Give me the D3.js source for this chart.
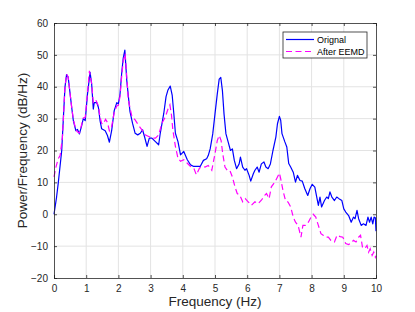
<!DOCTYPE html>
<html>
<head>
<meta charset="utf-8">
<script src="https://cdn.jsdelivr.net/npm/d3@7"></script>
<style>
  body { margin: 0; background: #fff; }
  svg { display: block; font-family: "Liberation Sans", Arial, Helvetica, sans-serif; }
  .tick text { fill: #262626; font-size: 10px; }
</style>
</head>
<body>
<svg id="chart" width="415" height="312"></svg>
<script>
// ── Data ──
const xTicks = [0, 1, 2, 3, 4, 5, 6, 7, 8, 9, 10];
const yTicks = [-20, -10, 0, 10, 20, 30, 40, 50, 60];
const seriesNames = ["Orignal", "After EEMD"];

const origFreq = [0, 0.08, 0.13, 0.24, 0.34, 0.39, 0.44, 0.55, 0.6, 0.68, 0.73, 0.79, 0.86, 0.91, 0.97,
  1.04, 1.12, 1.17, 1.22, 1.25, 1.33, 1.38, 1.43, 1.48, 1.59, 1.66, 1.72, 1.79, 1.87, 1.95,
  2.0, 2.05, 2.1, 2.15, 2.2, 2.26, 2.31, 2.36, 2.44, 2.52, 2.6, 2.68, 2.75, 2.81, 2.89, 2.96,
  3.04, 3.15, 3.25, 3.3, 3.41, 3.48, 3.54, 3.61, 3.67, 3.72, 3.77, 3.85, 3.93,
  4.03, 4.14, 4.24, 4.34, 4.45, 4.54, 4.64, 4.74, 4.79, 4.85, 4.93,
  5.0, 5.07, 5.13, 5.18, 5.23, 5.28, 5.34, 5.41, 5.48, 5.54, 5.6, 5.67, 5.75, 5.79, 5.86, 5.93, 5.98,
  6.06, 6.11, 6.19, 6.24, 6.31, 6.37, 6.44, 6.52, 6.58, 6.65, 6.72, 6.8, 6.89, 6.94,
  7.0, 7.04, 7.08, 7.17, 7.23, 7.29, 7.35, 7.43, 7.5, 7.56, 7.64, 7.71, 7.79, 7.88, 7.95,
  8.02, 8.1, 8.16, 8.21, 8.26, 8.31, 8.4, 8.47, 8.52, 8.57, 8.63, 8.71, 8.78, 8.85, 8.94,
  9.0, 9.06, 9.15, 9.23, 9.3, 9.35, 9.41, 9.46, 9.54, 9.61, 9.69, 9.75, 9.8, 9.85, 9.9, 9.94, 9.98, 10.0];
const origPower = [0, 5.4, 9.6, 20, 39.8, 43.8, 43, 33.5, 29.4, 26.2, 26.6, 25.2, 27.8, 30, 29.4,
  37.7, 44.5, 40.8, 33, 35, 35, 33.5, 29.4, 26.8, 26.2, 24.7, 22.6, 26.2, 32.5, 35,
  34.6, 37.7, 44, 49, 51.5, 42, 36.9, 32.2, 28.5, 25.4, 24.9, 25.4, 26.5, 24.4, 21.3, 23.9,
  23.9, 22.8, 21.8, 25.4, 31.7, 36.9, 39, 40.2, 37.4, 31.7, 25.4, 22.8, 18.6,
  19.7, 17.1, 15.5, 15, 15, 15, 16.9, 17.4, 18.4, 20.5, 25.2,
  31.5, 37.7, 42.4, 42.9, 38.8, 31.5, 25.2, 22.6, 20, 20.5, 16.9, 14.3, 15.8, 17.9, 14.8, 13.8, 14.3,
  12.2, 10.4, 12.7, 13.8, 14.8, 13.2, 15.8, 16.4, 14.8, 14.3, 15.8, 20, 24.2, 28.4,
  30.7, 29.5, 25.3, 22.7, 21.1, 15.9, 14.8, 13.2, 10.1, 12.2, 10.6, 10.4, 8, 5.9, 8,
  9.4, 8.5, 5.4, 2.8, 5.4, 2.3, 4.3, 5.4, 4.9, 7, 5.4, 4.3, 5.4, 4.9, 4.3,
  1.7, 0.7, -0.4, -2.5, -0.9, -1.4, 1.2, -1.4, -3.5, -3, -3.5, -0.9, -2.5, -0.9, -3, -0.9, -1.1, -5.3];

const eemdFreq = [0, 0.06, 0.13, 0.19, 0.26, 0.34, 0.39, 0.44, 0.55, 0.6, 0.68, 0.73, 0.79, 0.86, 0.91, 0.97,
  1.04, 1.1, 1.17, 1.22, 1.3, 1.38, 1.43, 1.48, 1.53, 1.6, 1.66, 1.72, 1.79, 1.87, 1.95,
  2.0, 2.05, 2.1, 2.15, 2.21, 2.31, 2.42, 2.52, 2.62, 2.73, 2.83, 2.94,
  3.04, 3.15, 3.25, 3.35, 3.46, 3.54, 3.6, 3.65, 3.69, 3.77, 3.85, 3.93,
  4.03, 4.14, 4.24, 4.34, 4.42, 4.52, 4.63, 4.69, 4.79, 4.9,
  5.0, 5.07, 5.13, 5.19, 5.24, 5.31, 5.38, 5.46, 5.54, 5.62, 5.69, 5.77, 5.86, 5.94,
  6.03, 6.13, 6.24, 6.34, 6.44, 6.55, 6.6, 6.68, 6.75, 6.86, 6.94,
  7.0, 7.04, 7.11, 7.19, 7.27, 7.35, 7.43, 7.5, 7.58, 7.67, 7.73, 7.81, 7.9, 7.98,
  8.05, 8.13, 8.21, 8.29, 8.36, 8.44, 8.52, 8.6, 8.71, 8.79, 8.89, 8.97,
  9.06, 9.15, 9.23, 9.3, 9.38, 9.46, 9.52, 9.58, 9.65, 9.72, 9.77, 9.82, 9.88, 9.93, 9.98, 10.0];
const eemdPower = [11.7, 14.8, 17.4, 18.4, 24, 39.8, 44, 43, 33.5, 29.8, 26.5, 25.8, 25.5, 28.2, 30.2, 30.4,
  38, 45, 41, 35, 35.8, 34, 30.5, 28.5, 28.3, 29.8, 28.8, 26.2, 27.5, 32, 34,
  34.2, 37, 43, 48, 50.4, 35.8, 30.6, 29.6, 28, 26.5, 24.9, 24.4,
  23.9, 23.9, 24.9, 28.5, 30.6, 33, 34.3, 31, 26.5, 21.3, 17.6, 16.6,
  17.1, 16, 15, 14.5, 12.4, 14.5, 15, 14.8, 15.3, 13.8,
  19, 23.1, 24.7, 23.1, 19, 14.8, 13.8, 13.8, 11.7, 8.6, 6.5, 6, 3.9, 4.9,
  3.9, 2.8, 3.9, 3.3, 4.4, 6, 6.5, 4.9, 8.6, 10.1, 11.7,
  12.9, 11.2, 7.5, 4.3, 3.8, 2.3, -0.9, -2.5, -3.5, -7.2, -3.5, -3.5, -2.5, -0.9,
  0, -0.9, -3.5, -6.1, -6.6, -7.2, -7.2, -8.2, -8.7, -6.6, -7, -7.2,
  -9.2, -9.5, -9, -8.2, -8.7, -7.2, -6.6, -10.3, -10.8, -9.8, -11.9, -10.8, -12.9, -11.9, -13.5, -13];

// ── Layout ──
const W = 415, H = 312;
const margin = { left: 54, right: 39, top: 23, bottom: 34 };
const iw = W - margin.left - margin.right;
const ih = H - margin.top - margin.bottom;
const axisColor = "#262626";

const svg = d3.select("#chart");
const g = svg.append("g").attr("transform", `translate(${margin.left},${margin.top})`);

const x = d3.scaleLinear().domain([0, 10]).range([0, iw]);
const y = d3.scaleLinear().domain([-20, 60]).range([ih, 0]);

// ── Grid ──
g.append("g").selectAll("line").data(xTicks.slice(1, -1)).join("line")
  .attr("x1", d => x(d)).attr("x2", d => x(d))
  .attr("y1", 0).attr("y2", ih)
  .attr("stroke", "#e3e3e3").attr("stroke-width", 1);
g.append("g").selectAll("line").data(yTicks.slice(1, -1)).join("line")
  .attr("x1", 0).attr("x2", iw)
  .attr("y1", d => y(d)).attr("y2", d => y(d))
  .attr("stroke", "#e3e3e3").attr("stroke-width", 1);

// ── Lines ──
const line = d3.line().x(d => x(d[0])).y(d => y(d[1]));
const origData = origFreq.map((f, i) => [f, origPower[i]]);
const eemdData = eemdFreq.map((f, i) => [f, eemdPower[i]]);

g.append("path").datum(origData)
  .attr("d", line).attr("fill", "none")
  .attr("stroke", "#0000ff").attr("stroke-width", 1.2)
  .attr("stroke-linejoin", "round");
g.append("path").datum(eemdData)
  .attr("d", line).attr("fill", "none")
  .attr("stroke", "#ff00ff").attr("stroke-width", 1.2)
  .attr("stroke-dasharray", "6,3.5");

// ── Axes (box, ticks inside) ──
const xAxis = g.append("g").attr("transform", `translate(0,${ih})`)
  .call(d3.axisBottom(x).tickValues(xTicks).tickSize(-3).tickPadding(7).tickFormat(d3.format("d")));
const xTop = g.append("g")
  .call(d3.axisTop(x).tickValues(xTicks).tickSize(-3).tickFormat(""));
const yAxis = g.append("g")
  .call(d3.axisLeft(y).tickValues(yTicks).tickSize(-3).tickPadding(6).tickFormat(d3.format("d")));
const yRight = g.append("g").attr("transform", `translate(${iw},0)`)
  .call(d3.axisRight(y).tickValues(yTicks).tickSize(-3).tickFormat(""));

[xAxis, xTop, yAxis, yRight].forEach(a => {
  a.select(".domain").attr("stroke", axisColor).attr("stroke-width", 0.8);
  a.selectAll(".tick line").attr("stroke", axisColor).attr("stroke-width", 0.8);
  a.selectAll(".tick text").attr("font-family", null).attr("font-size", null);
});

// ── Axis labels ──
svg.append("text")
  .attr("x", margin.left + iw / 2).attr("y", 306)
  .attr("text-anchor", "middle").attr("font-size", 13.5).attr("fill", axisColor)
  .text("Frequency (Hz)");
svg.append("text")
  .attr("transform", `translate(27,${margin.top + ih / 2}) rotate(-90)`)
  .attr("text-anchor", "middle").attr("font-size", 13.5).attr("fill", axisColor)
  .text("Power/Frequency (dB/Hz)");

// ── Legend ──
const legend = svg.append("g").attr("transform", "translate(283,32)");
legend.append("rect")
  .attr("width", 84).attr("height", 26)
  .attr("fill", "#fff").attr("stroke", axisColor).attr("stroke-width", 0.8);
const legendStyles = [
  { color: "#0000ff", dash: null },
  { color: "#ff00ff", dash: "6,3.5" }
];
seriesNames.forEach((name, i) => {
  const row = legend.append("g").attr("transform", `translate(0,${7.5 + i * 12})`);
  row.append("line")
    .attr("x1", 3).attr("x2", 31).attr("y1", 0).attr("y2", 0)
    .attr("stroke", legendStyles[i].color).attr("stroke-width", 1.2)
    .attr("stroke-dasharray", legendStyles[i].dash);
  row.append("text")
    .attr("x", 34).attr("y", 3.3)
    .attr("font-size", 9).attr("fill", "#000")
    .text(name);
});
</script>
</body>
</html>
